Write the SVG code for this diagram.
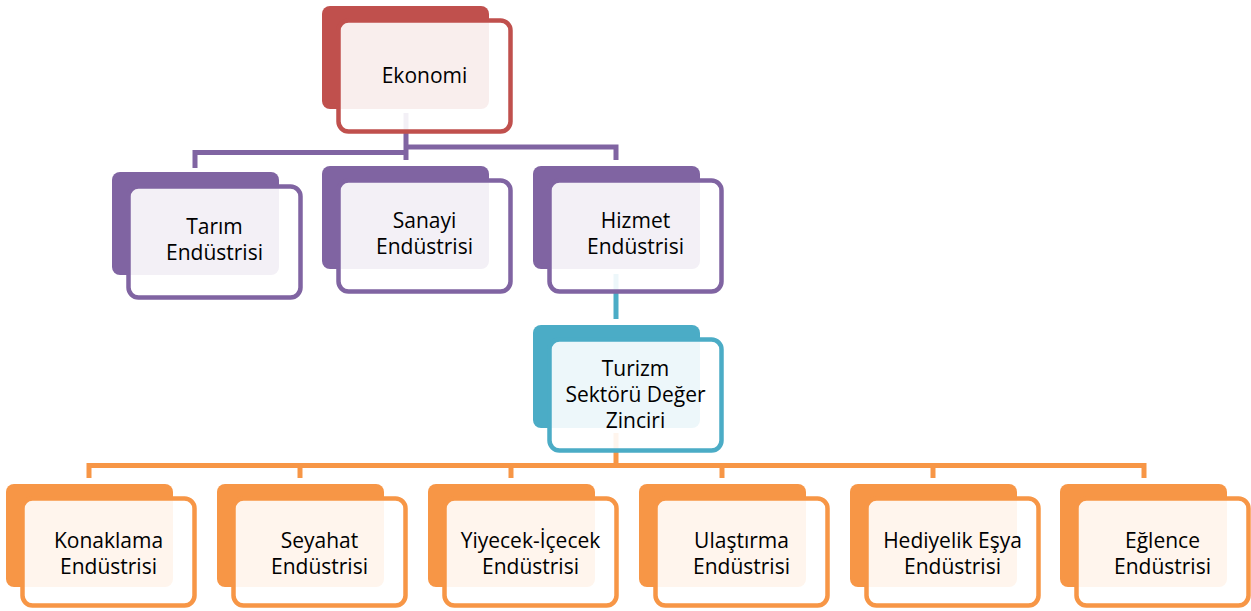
<svg xmlns="http://www.w3.org/2000/svg" width="1251" height="611" viewBox="0 0 1251 611">
  <style>
    .back { stroke: none; }
    .front { fill: #ffffff; fill-opacity: 0.9; stroke-width: 4.5; }
    .red .back { fill: #C0504D; }
    .red .front { stroke: #C0504D; }
    .purple .back { fill: #8064A2; }
    .purple .front { stroke: #8064A2; }
    .teal .back { fill: #4BACC6; }
    .teal .front { stroke: #4BACC6; }
    .orange .back { fill: #F79646; }
    .orange .front { stroke: #F79646; }
    .label { font-family: "Open Sans", "Noto Sans", "Liberation Sans", sans-serif; font-size: 21px; fill: #000000; text-anchor: middle; }
    .link { fill: none; stroke-width: 5; stroke-linejoin: miter; }
    .link-purple { stroke: #8064A2; }
    .link-teal { stroke: #4BACC6; }
    .link-orange { stroke: #F79646; }
  </style>

  <!-- connectors sit underneath the translucent node panels -->
  <g id="connectors">
    <path class="link link-purple" d="M406 113 V160"/>
    <path class="link link-purple" d="M406 152.5 H195 V168"/>
    <path class="link link-purple" d="M406 147 H616 V160"/>
    <path class="link link-teal" d="M616 274 V319"/>
    <path class="link link-orange" d="M616 433 V465.5"/>
    <path class="link link-orange" d="M89 478 V465.5 H1144 V478"/>
    <path class="link link-orange" d="M300 465.5 V478"/>
    <path class="link link-orange" d="M511 465.5 V478"/>
    <path class="link link-orange" d="M722 465.5 V478"/>
    <path class="link link-orange" d="M933 465.5 V478"/>
  </g>

  <g id="node-ekonomi" class="red">
    <rect class="back" x="322" y="6" width="167" height="103" rx="8"/>
    <rect class="front" x="338.5" y="20.5" width="172" height="111" rx="10"/>
    <text class="label" x="424.5" y="83">Ekonomi</text>
  </g>

  <g id="node-tarim" class="purple">
    <rect class="back" x="112" y="172" width="167" height="103" rx="8"/>
    <rect class="front" x="128.5" y="186.5" width="172" height="111" rx="10"/>
    <text class="label" x="214.5" y="234">Tarım</text>
    <text class="label" x="214.5" y="260">Endüstrisi</text>
  </g>

  <g id="node-sanayi" class="purple">
    <rect class="back" x="322" y="166" width="167" height="103" rx="8"/>
    <rect class="front" x="338.5" y="180.5" width="172" height="111" rx="10"/>
    <text class="label" x="424.5" y="228">Sanayi</text>
    <text class="label" x="424.5" y="254">Endüstrisi</text>
  </g>

  <g id="node-hizmet" class="purple">
    <rect class="back" x="533" y="166" width="167" height="103" rx="8"/>
    <rect class="front" x="549.5" y="180.5" width="172" height="111" rx="10"/>
    <text class="label" x="635.5" y="228">Hizmet</text>
    <text class="label" x="635.5" y="254">Endüstrisi</text>
  </g>

  <g id="node-turizm" class="teal">
    <rect class="back" x="533" y="325" width="167" height="103" rx="8"/>
    <rect class="front" x="549.5" y="339.5" width="172" height="111" rx="10"/>
    <text class="label" x="635.5" y="376">Turizm</text>
    <text class="label" x="635.5" y="402">Sektörü Değer</text>
    <text class="label" x="635.5" y="428">Zinciri</text>
  </g>

  <g id="node-konaklama" class="orange">
    <rect class="back" x="6" y="484" width="167" height="103" rx="8"/>
    <rect class="front" x="22.5" y="498.5" width="172" height="107" rx="10"/>
    <text class="label" x="108.5" y="548">Konaklama</text>
    <text class="label" x="108.5" y="574">Endüstrisi</text>
  </g>

  <g id="node-seyahat" class="orange">
    <rect class="back" x="217" y="484" width="167" height="103" rx="8"/>
    <rect class="front" x="233.5" y="498.5" width="172" height="107" rx="10"/>
    <text class="label" x="319.5" y="548">Seyahat</text>
    <text class="label" x="319.5" y="574">Endüstrisi</text>
  </g>

  <g id="node-yiyecek" class="orange">
    <rect class="back" x="428" y="484" width="167" height="103" rx="8"/>
    <rect class="front" x="444.5" y="498.5" width="172" height="107" rx="10"/>
    <text class="label" x="530.5" y="548">Yiyecek-İçecek</text>
    <text class="label" x="530.5" y="574">Endüstrisi</text>
  </g>

  <g id="node-ulastirma" class="orange">
    <rect class="back" x="639" y="484" width="167" height="103" rx="8"/>
    <rect class="front" x="655.5" y="498.5" width="172" height="107" rx="10"/>
    <text class="label" x="741.5" y="548">Ulaştırma</text>
    <text class="label" x="741.5" y="574">Endüstrisi</text>
  </g>

  <g id="node-hediyelik" class="orange">
    <rect class="back" x="850" y="484" width="167" height="103" rx="8"/>
    <rect class="front" x="866.5" y="498.5" width="172" height="107" rx="10"/>
    <text class="label" x="952.5" y="548">Hediyelik Eşya</text>
    <text class="label" x="952.5" y="574">Endüstrisi</text>
  </g>

  <g id="node-eglence" class="orange">
    <rect class="back" x="1060" y="484" width="167" height="103" rx="8"/>
    <rect class="front" x="1076.5" y="498.5" width="172" height="107" rx="10"/>
    <text class="label" x="1162.5" y="548">Eğlence</text>
    <text class="label" x="1162.5" y="574">Endüstrisi</text>
  </g>
</svg>
